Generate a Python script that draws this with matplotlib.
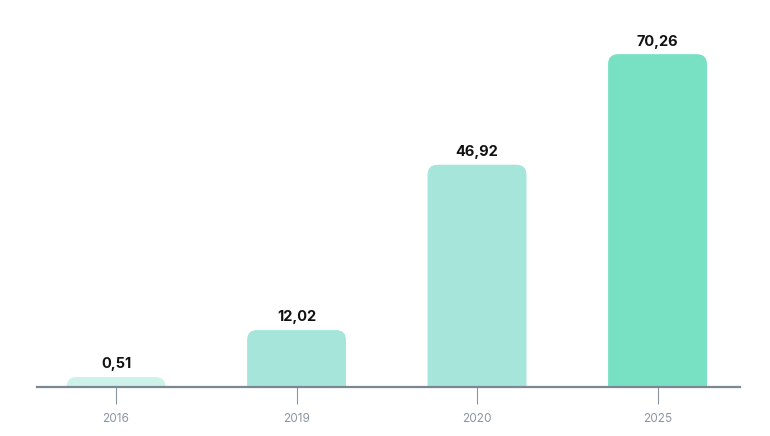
import matplotlib.pyplot as plt
from matplotlib.patches import FancyBboxPatch

years = ['2016', '2019', '2020', '2025']
values = [0.51, 12.02, 46.92, 70.26]
labels = ['0,51', '12,02', '46,92', '70,26']
colors = ['#cdf3e8', '#a6e6da', '#a6e6da', '#78e1c4']

plt.rcParams['font.family'] = ['Inter', 'DejaVu Sans']

fig = plt.figure(figsize=(7.7, 4.36), dpi=100)
ax = fig.add_axes([37 / 770, 49 / 436, 703 / 770, 379 / 436])
ax.set_xlim(-0.438, 3.457)
ax.set_ylim(0, 80)

bar_w = 0.548
# corner radius ~10 px, in data units for each axis
px_x = 703 / (3.457 + 0.438)
px_y = 379 / 80
r_x = 10 / px_x
r_y = 10 / px_y

for i, (v, lab, c) in enumerate(zip(values, labels, colors)):
    h = max(v, r_y)
    box = FancyBboxPatch((i - bar_w / 2, -r_y), bar_w, h + r_y,
                         boxstyle=f"round,pad=0,rounding_size={r_x}",
                         mutation_aspect=r_y / r_x,
                         fc=c, ec='none', zorder=2)
    ax.add_patch(box)
    ax.annotate(lab, (i, h), xytext=(0, 4), textcoords='offset points',
                ha='center', va='bottom', fontsize=10.5, fontweight='bold',
                color='#111111')

for s in ['top', 'right', 'left']:
    ax.spines[s].set_visible(False)
ax.spines['bottom'].set_color('#7c8796')
ax.spines['bottom'].set_linewidth(1.6)
ax.spines['bottom'].set_zorder(3)

ax.set_xticks(range(len(years)))
ax.set_xticklabels(years)
ax.tick_params(axis='x', length=12, width=0.8, color='#8b95a1',
               labelcolor='#8b95a1', labelsize=8.5, pad=7)
ax.set_yticks([])

fig.savefig('out.png', dpi=100)
